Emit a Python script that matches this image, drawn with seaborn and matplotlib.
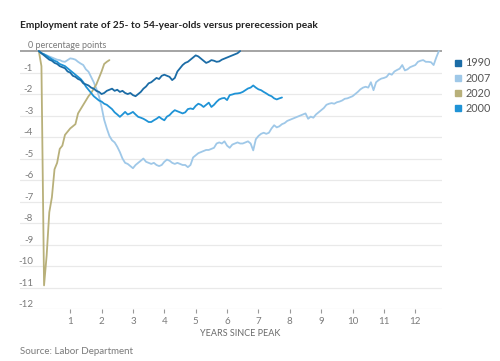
"""Prime-age employment rate vs prerecession peak, four recessions."""

import numpy as np
import pandas as pd
import matplotlib
matplotlib.use('Agg')
import matplotlib.pyplot as plt
import seaborn as sns
from matplotlib.lines import Line2D


# monthly change from the peak, percentage points (month 0 = peak)
RATE_1990 = [0.0, -0.1, -0.2, -0.3, -0.4, -0.45, -0.55, -0.6, -0.7, -0.75,
             -0.8, -0.95, -1.0, -1.15, -1.2, -1.3, -1.35, -1.5, -1.55, -1.6,
             -1.7, -1.75, -1.85, -1.9, -2.0, -1.95, -1.85, -1.8, -1.75, -1.85,
             -1.8, -1.9, -1.85, -1.95, -2.0, -1.95, -2.05, -2.1, -2.0, -1.9,
             -1.75, -1.65, -1.5, -1.45, -1.35, -1.25, -1.3, -1.15, -1.1, -1.15,
             -1.2, -1.35, -1.25, -0.95, -0.8, -0.65, -0.55, -0.5, -0.4, -0.3,
             -0.2, -0.25, -0.35, -0.45, -0.55, -0.5, -0.42, -0.45, -0.5, -0.48,
             -0.4, -0.35, -0.3, -0.25, -0.2, -0.15, -0.1, 0.0]

RATE_2000 = [0.0, -0.1, -0.15, -0.22, -0.3, -0.38, -0.45, -0.5, -0.6, -0.65,
             -0.7, -0.8, -0.9, -1.0, -1.1, -1.2, -1.3, -1.45, -1.65, -1.8,
             -1.95, -2.1, -2.2, -2.3, -2.35, -2.45, -2.5, -2.6, -2.7, -2.85,
             -2.95, -3.06, -2.95, -2.83, -2.95, -2.9, -2.83, -2.95, -3.06, -3.1,
             -3.15, -3.22, -3.3, -3.3, -3.22, -3.15, -3.06, -3.15, -3.22, -3.05,
             -2.98, -2.85, -2.75, -2.8, -2.85, -2.9, -2.85, -2.7, -2.67, -2.7,
             -2.55, -2.45, -2.5, -2.6, -2.5, -2.4, -2.6, -2.5, -2.36, -2.25,
             -2.2, -2.18, -2.28, -2.05, -2.02, -1.98, -1.97, -1.95, -1.9, -1.82,
             -1.74, -1.7, -1.6, -1.7, -1.78, -1.82, -1.9, -1.97, -2.05, -2.1,
             -2.2, -2.25, -2.2, -2.16]

RATE_2007 = [0.0, -0.1, -0.15, -0.2, -0.25, -0.3, -0.35, -0.4, -0.42, -0.48,
             -0.5, -0.42, -0.34, -0.36, -0.4, -0.5, -0.58, -0.65, -0.85, -0.96,
             -1.2, -1.45, -1.75, -2.1, -2.6, -3.2, -3.6, -3.95, -4.15, -4.25,
             -4.45, -4.7, -5.0, -5.2, -5.25, -5.35, -5.45, -5.3, -5.2, -5.1,
             -5.0, -5.15, -5.2, -5.25, -5.2, -5.3, -5.35, -5.3, -5.15, -5.05,
             -5.1, -5.2, -5.25, -5.2, -5.25, -5.3, -5.3, -5.4, -5.3, -4.95,
             -4.85, -4.75, -4.7, -4.65, -4.6, -4.6, -4.55, -4.5, -4.3, -4.25,
             -4.3, -4.2, -4.4, -4.5, -4.35, -4.3, -4.25, -4.3, -4.3, -4.25,
             -4.2, -4.3, -4.62, -4.1, -3.95, -3.85, -3.8, -3.85, -3.8, -3.6,
             -3.45, -3.55, -3.5, -3.4, -3.35, -3.25, -3.2, -3.15, -3.1, -3.05,
             -3.0, -2.95, -2.9, -3.15, -3.05, -3.1, -2.95, -2.85, -2.75, -2.65,
             -2.5, -2.45, -2.42, -2.45, -2.38, -2.35, -2.3, -2.22, -2.2, -2.15,
             -2.1, -2.0, -1.9, -1.78, -1.7, -1.66, -1.7, -1.45, -1.82, -1.45,
             -1.35, -1.28, -1.25, -1.2, -1.05, -1.1, -0.95, -0.88, -0.82, -0.65,
             -0.9, -0.85, -0.75, -0.7, -0.65, -0.5, -0.45, -0.42, -0.5, -0.5,
             -0.52, -0.65, -0.3, 0.0]

RATE_2020 = [0.0, -0.7, -10.9, -9.5, -7.5, -6.8, -5.5, -5.2, -4.55, -4.4,
             -3.9, -3.75, -3.6, -3.5, -3.4, -2.9, -2.7, -2.5, -2.3, -2.1,
             -1.95, -1.75, -1.55, -1.25, -0.95, -0.6, -0.5, -0.42]

LEGEND_ORDER = ['1990', '2007', '2020', '2000']
COLORS = {'1990': '#1b6ca6', '2007': '#9fc8e8', '2020': '#b8b07a', '2000': '#1f93d6'}
Y_TICKS = list(range(-1, -13, -1))
X_TICKS = list(range(1, 13))

series = {'2007': RATE_2007, '2020': RATE_2020, '2000': RATE_2000, '1990': RATE_1990}
frames = []
for name, vals in series.items():
    frames.append(pd.DataFrame({'years': np.arange(len(vals)) / 12,
                                'change': vals, 'peak': name}))
df = pd.concat(frames, ignore_index=True)

sns.set_theme(style='white')
plt.rcParams['font.family'] = ['Lato', 'DejaVu Sans']
plt.rcParams['ytick.alignment'] = 'bottom'

fig = plt.figure(figsize=(5, 3.61), dpi=100)
ax = fig.add_axes([0.04, 0.144, 0.844, 0.7205])

sns.lineplot(data=df, x='years', y='change', hue='peak', palette=COLORS,
             hue_order=list(series.keys()), estimator=None, sort=False,
             linewidth=1.3, legend=False, ax=ax, zorder=4)

ax.set_xlim(-0.6, 12.85)
ax.set_ylim(-12, 0.1)
for s in ax.spines.values():
    s.set_visible(False)

ax.set_yticks(Y_TICKS)
ax.set_yticklabels([str(t) for t in Y_TICKS])
ax.yaxis.grid(True, color='#e9e9e9', lw=0.9)
ax.xaxis.grid(False)
ax.axhline(0, color='#8c8c8c', lw=1.1, zorder=3)
ax.tick_params(axis='y', length=0, pad=-9.5, labelsize=7, labelcolor='#7a7a7a')
ax.set_xticks(X_TICKS)
ax.tick_params(axis='x', bottom=True, length=3, width=0.8, color='#999999',
               pad=3, labelsize=7, labelcolor='#7a7a7a', direction='out')
ax.text(-0.35, 0.05, '0 percentage points', fontsize=6.5, color='#7a7a7a',
        va='bottom', ha='left')

ax.set_xlabel('YEARS SINCE PEAK', fontsize=6.5, color='#6a6a6a')
ax.xaxis.set_label_coords((240 - 20) / 422, -0.075)
ax.set_ylabel('')

handles = [Line2D([], [], marker='s', ls='', color=COLORS[k], markersize=5)
           for k in LEGEND_ORDER]
ax.legend(handles, LEGEND_ORDER, loc='upper left', bbox_to_anchor=(447 / 500, 1 - 52 / 361),
          bbox_transform=fig.transFigure, frameon=False, fontsize=7.8,
          handletextpad=0.2, labelspacing=0.38, borderpad=0, handlelength=1.0,
          labelcolor='#555555')

fig.text(20 / 500, 1 - 25.7 / 361,
         'Employment rate of 25- to 54-year-olds versus prerecession peak',
         ha='left', va='center', fontsize=7.3, fontweight='bold', color='#222222')
fig.text(20 / 500, 1 - 351 / 361, 'Source: Labor Department', ha='left',
         va='center', fontsize=7, color='#7a7a7a')

fig.savefig('out.png', dpi=100)
